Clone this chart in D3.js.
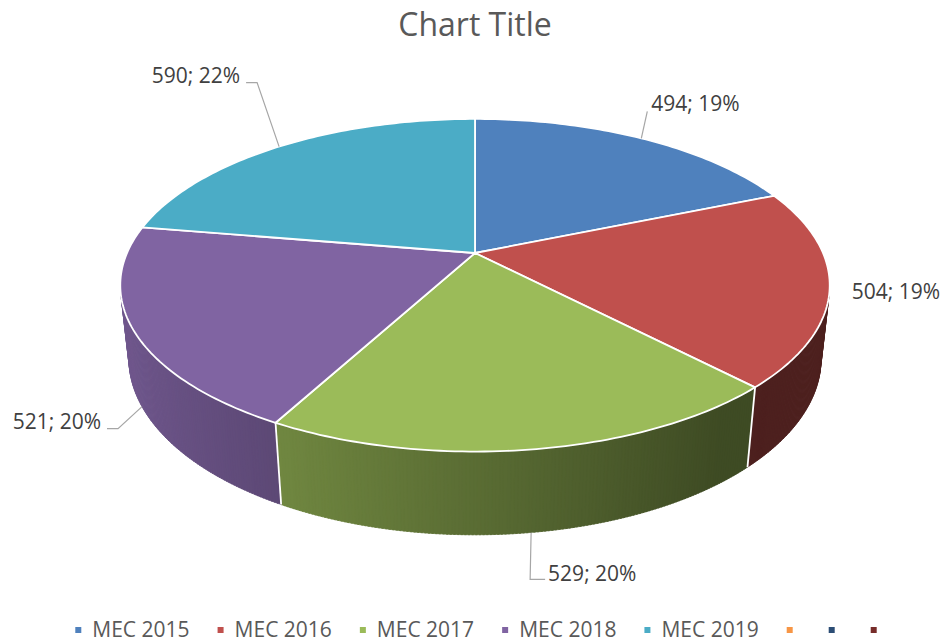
<!DOCTYPE html>
<html>
<head>
<meta charset="utf-8">
<script src="https://cdn.jsdelivr.net/npm/d3@7"></script>
<style>
  body { margin: 0; background: #fff; }
  text { font-family: "Open Sans", "Noto Sans", sans-serif; }
</style>
</head>
<body>
<div id="chart"></div>
<script>
// data
const categories = ["MEC 2015", "MEC 2016", "MEC 2017", "MEC 2018", "MEC 2019", "", "", ""];
const values = [494, 504, 529, 521, 590, 0, 0, 0];
const colors = ["#4F81BD", "#C0504D", "#9BBB59", "#8064A2", "#4BACC6", "#F79646", "#2C4D75", "#772C2A"];

// label placement relative to the rim point at mid angle (layout only)
const labelLayout = [
  { rim: "top", leader: [[6, -27]], text: [10, -27], anchor: "start" },
  { rim: "top", leader: null, text: [22, 12], anchor: "start" },
  { rim: "bottom", leader: [[-1, 47], [14, 47]], text: [17, 49], anchor: "start" },
  { rim: "bottom", leader: [[-24, 22], [-35, 22]], text: [-41, 22], anchor: "end" },
  { rim: "top", leader: [[-22, -64], [-33, -64]], text: [-39, -64], anchor: "end" }
];

const width = 942;
const height = 643;

const svg = d3.select("#chart").append("svg")
  .attr("width", width)
  .attr("height", height);

// 3D projection of the pie disk
const cx = 475, cy = 253;   // projected pie centre
const S = 348;              // radius scale in px
const sinT = 0.46, cosT = Math.sqrt(1 - sinT * sinT);
const focal = 4.58;         // perspective distance (radius units)
const depth = 0.239;        // thickness (radius units)

function proj(a, r, y) {
  const X = r * Math.cos(a), z = r * Math.sin(a);
  const Yv = y * cosT - z * sinT;
  const Zv = y * sinT + z * cosT;
  const k = focal / (focal - Zv);
  return [cx + S * X * k, cy - S * Yv * k];
}

// pie angle (0 at 12 o'clock, clockwise) -> disk angle
const toA = (t) => t - Math.PI / 2;

const total = d3.sum(values);
const arcs = d3.pie().sort(null).value((d) => d)(values);

// visible wall range
const visMin = Math.asin(1 / (focal * cosT));
const visMax = Math.PI - visMin;

function shade(color, a) {
  const f = Math.max(0.4, Math.min(0.9, 0.58 - 0.3 * Math.cos(a)));
  const c = d3.rgb(color);
  return d3.rgb(c.r * f, c.g * f, c.b * f).toString();
}

// side walls
const wallG = svg.append("g");
const step = Math.PI / 360;
arcs.forEach((d, i) => {
  if (d.value <= 0) return;
  const a0 = Math.max(toA(d.startAngle), visMin);
  const a1 = Math.min(toA(d.endAngle), visMax);
  if (a1 <= a0) return;
  for (let a = a0; a < a1; a += step) {
    const b = Math.min(a + step * 1.5, a1);
    const pts = [proj(a, 1, 0), proj(b, 1, 0), proj(b, 1, -depth), proj(a, 1, -depth)];
    const col = shade(colors[i], (a + b) / 2);
    wallG.append("path")
      .attr("d", "M" + pts.join("L") + "Z")
      .attr("fill", col)
      .attr("stroke", col)
      .attr("stroke-width", 0.6);
  }
});

// white seams between walls
arcs.forEach((d) => {
  const a = toA(d.startAngle);
  if (d.value > 0 && a > visMin && a < visMax) {
    const p0 = proj(a, 1, 0), p1 = proj(a, 1, -depth);
    wallG.append("line")
      .attr("x1", p0[0]).attr("y1", p0[1])
      .attr("x2", p1[0]).attr("y2", p1[1])
      .attr("stroke", "#fff")
      .attr("stroke-width", 1.8);
  }
});

// top faces
const topG = svg.append("g");
arcs.forEach((d, i) => {
  if (d.value <= 0) return;
  const a0 = toA(d.startAngle), a1 = toA(d.endAngle);
  const n = Math.max(2, Math.ceil((a1 - a0) / (Math.PI / 180)));
  const pts = [proj(0, 0, 0)];
  for (let j = 0; j <= n; j++) pts.push(proj(a0 + (a1 - a0) * j / n, 1, 0));
  topG.append("path")
    .attr("d", "M" + pts.join("L") + "Z")
    .attr("fill", colors[i])
    .attr("stroke", "#fff")
    .attr("stroke-width", 1.8)
    .attr("stroke-linejoin", "round");
});

// data labels
const labelG = svg.append("g");
arcs.forEach((d, i) => {
  const lay = labelLayout[i];
  if (!lay || d.value <= 0) return;
  const am = toA((d.startAngle + d.endAngle) / 2);
  const p = proj(am, 1, lay.rim === "top" ? 0 : -depth);
  if (lay.leader) {
    const line = [p].concat(lay.leader.map((o) => [p[0] + o[0], p[1] + o[1]]));
    labelG.append("path")
      .attr("d", "M" + line.join("L"))
      .attr("fill", "none")
      .attr("stroke", "#a6a6a6")
      .attr("stroke-width", 1.2);
  }
  labelG.append("text")
    .attr("x", p[0] + lay.text[0])
    .attr("y", p[1] + lay.text[1])
    .attr("text-anchor", lay.anchor)
    .attr("font-size", 21)
    .attr("fill", "#404040")
    .text(`${d.value}; ${Math.round(d.value / total * 100)}%`);
});

// title
svg.append("text")
  .attr("x", 475)
  .attr("y", 36)
  .attr("text-anchor", "middle")
  .attr("font-size", 32)
  .attr("fill", "#595959")
  .text("Chart Title");

// legend
const legend = svg.append("g");
let lx = 0;
categories.forEach((name, i) => {
  const item = legend.append("g").attr("transform", `translate(${lx},0)`);
  item.append("rect")
    .attr("x", 0).attr("y", 627)
    .attr("width", 6).attr("height", 6)
    .attr("fill", colors[i]);
  if (name) {
    const t = item.append("text")
      .attr("x", 17).attr("y", 637)
      .attr("font-size", 21)
      .attr("fill", "#595959")
      .text(name);
    const w = t.node().getComputedTextLength();
    lx += 17 + w + 28;
  } else {
    lx += 42;
  }
});
const legW = lx - 42 + 6;
legend.attr("transform", `translate(${476 - legW / 2},0)`);
</script>
</body>
</html>
